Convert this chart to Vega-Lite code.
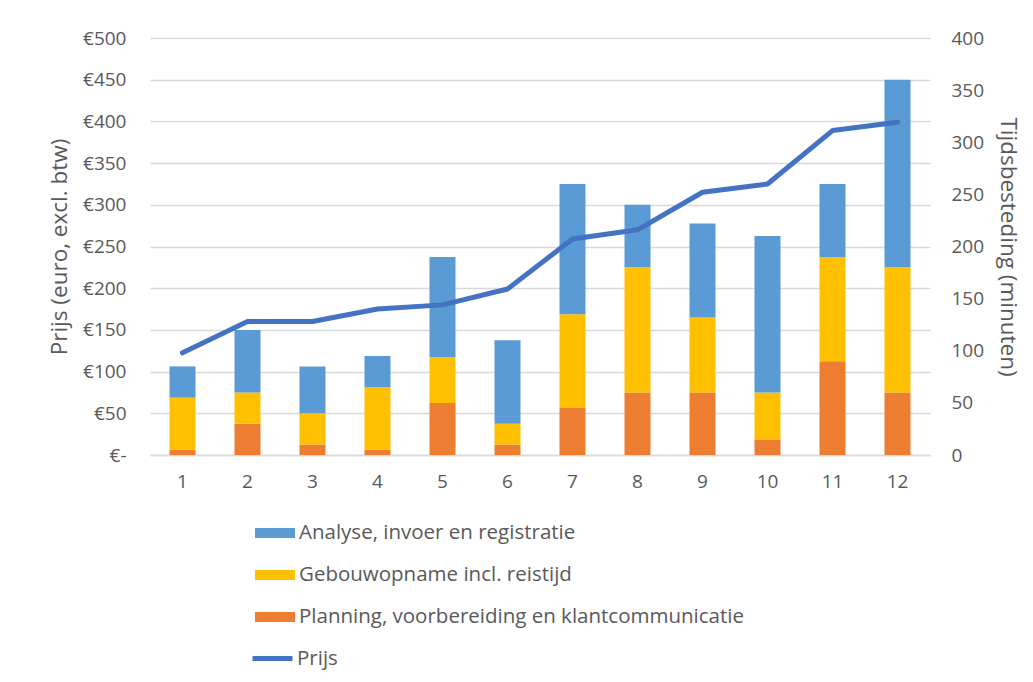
{
  "$schema": "https://vega.github.io/schema/vega-lite/v6.json",
  "width": 780,
  "height": 417,
  "autosize": {"type": "none"},
  "padding": {"left": 150, "top": 38, "right": 103, "bottom": 227},
  "background": "white",
  "config": {
    "view": {"stroke": null},
    "font": "Open Sans",
    "axis": {
      "labelFont": "Open Sans",
      "titleFont": "Open Sans",
      "labelColor": "#595959",
      "titleColor": "#595959",
      "labelFontSize": 19,
      "titleFontSize": 22.5,
      "titleFontWeight": "normal",
      "ticks": false,
      "tickSize": 0
    },
    "legend": {
      "labelFont": "Open Sans",
      "labelFontSize": 20.5,
      "labelColor": "#595959"
    }
  },
  "datasets": {
    "tijd": [
      {"n": 1, "taak": "Planning, voorbereiding en klantcommunicatie", "minuten": 5},
      {"n": 1, "taak": "Gebouwopname incl. reistijd", "minuten": 50},
      {"n": 1, "taak": "Analyse, invoer en registratie", "minuten": 30},
      {"n": 2, "taak": "Planning, voorbereiding en klantcommunicatie", "minuten": 30},
      {"n": 2, "taak": "Gebouwopname incl. reistijd", "minuten": 30},
      {"n": 2, "taak": "Analyse, invoer en registratie", "minuten": 60},
      {"n": 3, "taak": "Planning, voorbereiding en klantcommunicatie", "minuten": 10},
      {"n": 3, "taak": "Gebouwopname incl. reistijd", "minuten": 30},
      {"n": 3, "taak": "Analyse, invoer en registratie", "minuten": 45},
      {"n": 4, "taak": "Planning, voorbereiding en klantcommunicatie", "minuten": 5},
      {"n": 4, "taak": "Gebouwopname incl. reistijd", "minuten": 60},
      {"n": 4, "taak": "Analyse, invoer en registratie", "minuten": 30},
      {"n": 5, "taak": "Planning, voorbereiding en klantcommunicatie", "minuten": 50},
      {"n": 5, "taak": "Gebouwopname incl. reistijd", "minuten": 44},
      {"n": 5, "taak": "Analyse, invoer en registratie", "minuten": 96},
      {"n": 6, "taak": "Planning, voorbereiding en klantcommunicatie", "minuten": 10},
      {"n": 6, "taak": "Gebouwopname incl. reistijd", "minuten": 20},
      {"n": 6, "taak": "Analyse, invoer en registratie", "minuten": 80},
      {"n": 7, "taak": "Planning, voorbereiding en klantcommunicatie", "minuten": 45},
      {"n": 7, "taak": "Gebouwopname incl. reistijd", "minuten": 90},
      {"n": 7, "taak": "Analyse, invoer en registratie", "minuten": 125},
      {"n": 8, "taak": "Planning, voorbereiding en klantcommunicatie", "minuten": 60},
      {"n": 8, "taak": "Gebouwopname incl. reistijd", "minuten": 120},
      {"n": 8, "taak": "Analyse, invoer en registratie", "minuten": 60},
      {"n": 9, "taak": "Planning, voorbereiding en klantcommunicatie", "minuten": 60},
      {"n": 9, "taak": "Gebouwopname incl. reistijd", "minuten": 72},
      {"n": 9, "taak": "Analyse, invoer en registratie", "minuten": 90},
      {"n": 10, "taak": "Planning, voorbereiding en klantcommunicatie", "minuten": 15},
      {"n": 10, "taak": "Gebouwopname incl. reistijd", "minuten": 45},
      {"n": 10, "taak": "Analyse, invoer en registratie", "minuten": 150},
      {"n": 11, "taak": "Planning, voorbereiding en klantcommunicatie", "minuten": 90},
      {"n": 11, "taak": "Gebouwopname incl. reistijd", "minuten": 100},
      {"n": 11, "taak": "Analyse, invoer en registratie", "minuten": 70},
      {"n": 12, "taak": "Planning, voorbereiding en klantcommunicatie", "minuten": 60},
      {"n": 12, "taak": "Gebouwopname incl. reistijd", "minuten": 120},
      {"n": 12, "taak": "Analyse, invoer en registratie", "minuten": 180}
    ],
    "prijs": [
      {"n": 1, "prijs": 122.5},
      {"n": 2, "prijs": 160},
      {"n": 3, "prijs": 160},
      {"n": 4, "prijs": 175},
      {"n": 5, "prijs": 180},
      {"n": 6, "prijs": 199},
      {"n": 7, "prijs": 259},
      {"n": 8, "prijs": 270},
      {"n": 9, "prijs": 315},
      {"n": 10, "prijs": 325},
      {"n": 11, "prijs": 389},
      {"n": 12, "prijs": 399}
    ]
  },
  "layer": [
    {
      "data": {"name": "tijd"},
      "mark": {"type": "bar"},
      "encoding": {
        "x": {
          "field": "n",
          "type": "ordinal",
          "scale": {"paddingInner": 0.6, "paddingOuter": 0.3},
          "axis": {
            "title": null,
            "labelAngle": 0,
            "labelPadding": 17,
            "domain": true,
            "domainColor": "#D9D9D9",
            "domainWidth": 1.5
          }
        },
        "y": {
          "field": "minuten",
          "type": "quantitative",
          "stack": "zero",
          "scale": {"domain": [0, 400], "nice": false},
          "axis": {
            "orient": "right",
            "title": "Tijdsbesteding (minuten)",
            "values": [0, 50, 100, 150, 200, 250, 300, 350, 400],
            "grid": false,
            "domain": false,
            "labelPadding": 21,
            "titlePadding": 12
          }
        },
        "color": {
          "field": "taak",
          "type": "nominal",
          "scale": {
            "domain": ["Analyse, invoer en registratie", "Gebouwopname incl. reistijd", "Planning, voorbereiding en klantcommunicatie"],
            "range": ["#5B9BD5", "#FFC000", "#ED7D31"]
          },
          "legend": {
            "title": null,
            "orient": "none",
            "legendX": 105,
            "legendY": 475,
            "direction": "vertical",
            "symbolType": "M-1,-0.25H1V0.25H-1Z",
            "symbolSize": 1600,
            "symbolStrokeWidth": 0,
            "rowPadding": 11,
            "labelOffset": 4,
            "labelLimit": 700
          }
        },
        "order": {"field": "taak", "sort": "descending"}
      }
    },
    {
      "data": {"name": "prijs"},
      "mark": {"type": "line", "strokeWidth": 5, "strokeCap": "round", "strokeJoin": "round"},
      "encoding": {
        "x": {"field": "n", "type": "ordinal"},
        "y": {
          "field": "prijs",
          "type": "quantitative",
          "scale": {"domain": [0, 500], "nice": false},
          "axis": {
            "orient": "left",
            "title": "Prijs (euro, excl. btw)",
            "values": [0, 50, 100, 150, 200, 250, 300, 350, 400, 450, 500],
            "labelExpr": "datum.value == 0 ? '€-' : '€' + datum.value",
            "grid": true,
            "gridColor": "#D9D9D9",
            "gridWidth": 1.5,
            "domain": false,
            "labelPadding": 24,
            "titlePadding": 11
          }
        },
        "stroke": {
          "datum": "Prijs",
          "type": "nominal",
          "scale": {"domain": ["Prijs"], "range": ["#4472C4"]},
          "legend": {
            "title": null,
            "orient": "none",
            "legendX": 100,
            "legendY": 598,
            "symbolType": "stroke",
            "symbolSize": 1600,
            "symbolStrokeWidth": 5,
            "labelOffset": 2
          }
        }
      }
    }
  ],
  "resolve": {"scale": {"y": "independent"}}
}
